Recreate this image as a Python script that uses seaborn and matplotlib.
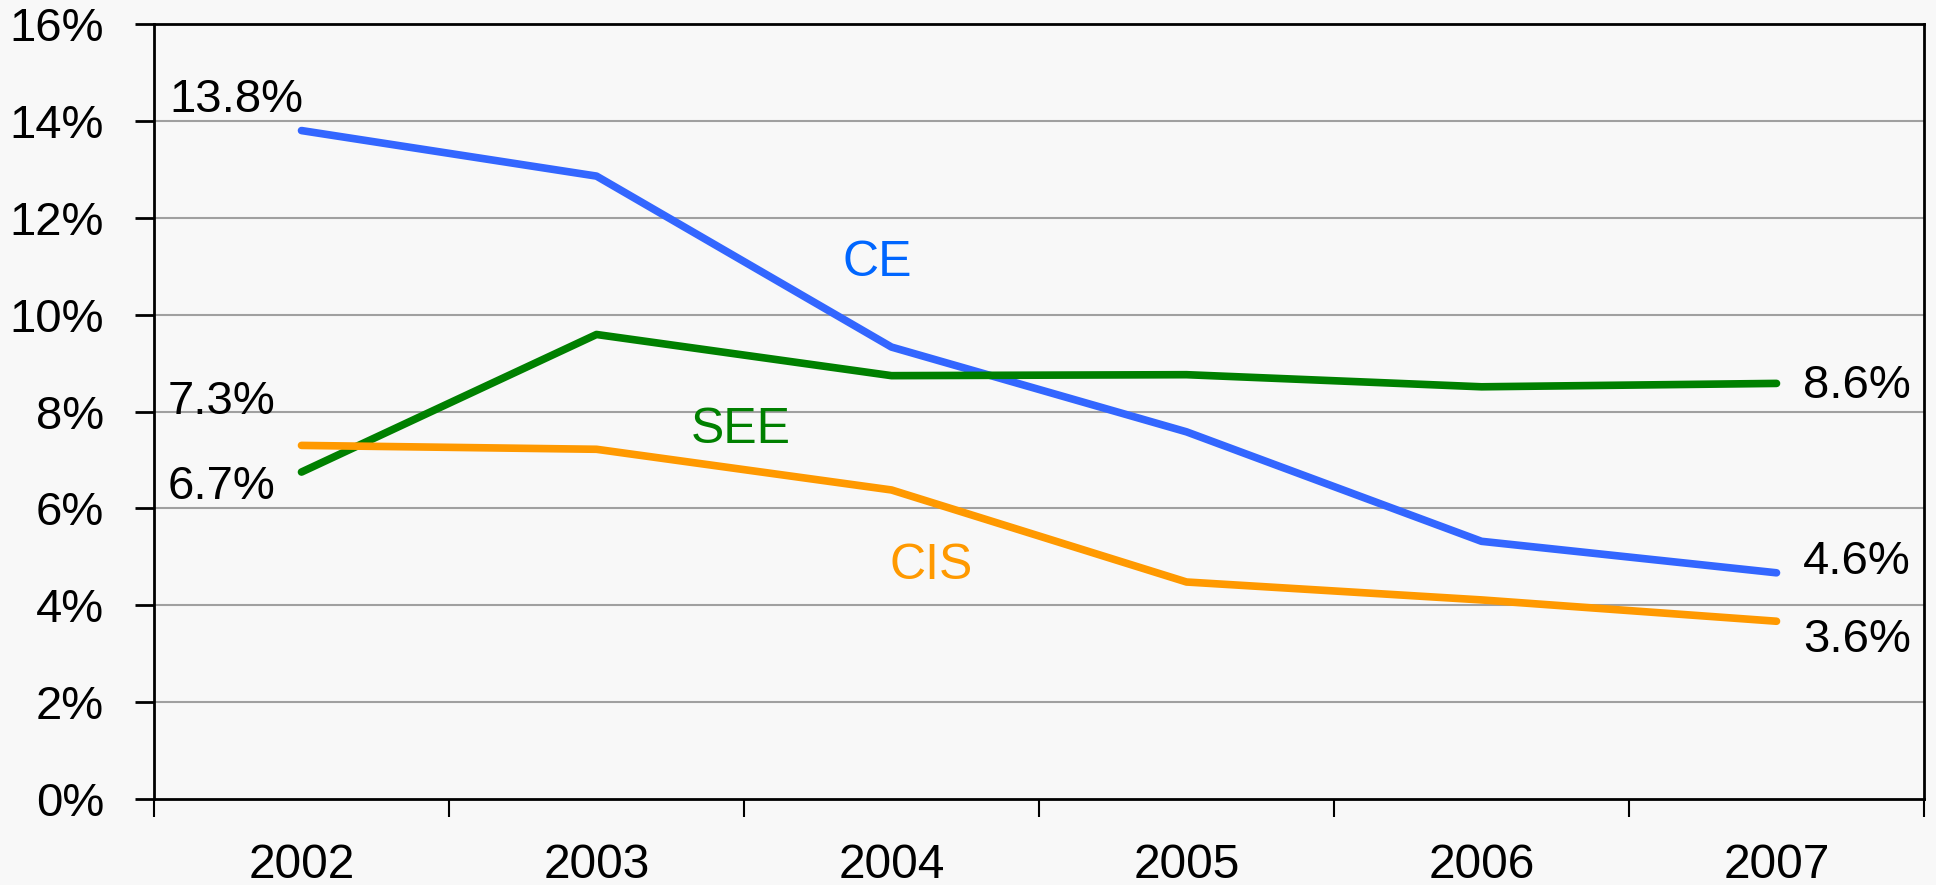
import matplotlib
matplotlib.use("Agg")
import matplotlib.pyplot as plt
import seaborn as sns
import pandas as pd
import numpy as np
from matplotlib.ticker import FixedLocator, NullFormatter, FixedFormatter

years = ["2002", "2003", "2004", "2005", "2006", "2007"]
ce = [13.8, 12.86, 9.33, 7.58, 5.32, 4.67]
see = [6.75, 9.59, 8.74, 8.76, 8.51, 8.58]
cis = [7.30, 7.22, 6.38, 4.48, 4.11, 3.67]
series_names = ["CE", "SEE", "CIS"]
start_labels = {"CE": "13.8%", "SEE": "6.7%", "CIS": "7.3%"}
end_labels = {"CE": "4.6%", "SEE": "8.6%", "CIS": "3.6%"}
yticks = [0, 2, 4, 6, 8, 10, 12, 14, 16]

colors = {"CE": "#3366FF", "SEE": "#008000", "CIS": "#FF9900"}
text_colors = {"CE": "#0066FF", "SEE": "#008000", "CIS": "#FF9900"}

sns.set_style("white")
plt.rcParams["font.family"] = ["Liberation Sans", "DejaVu Sans"]
plt.rcParams["text.color"] = "black"
plt.rcParams["xtick.color"] = "black"
plt.rcParams["ytick.color"] = "black"

rows = []
for name, vals in zip(series_names, [ce, see, cis]):
    for i, v in enumerate(vals):
        rows.append({"series": name, "x": i, "value": v})
df = pd.DataFrame(rows)

fig = plt.figure(figsize=(19.36, 8.85), dpi=100)
fig.patch.set_facecolor("#f8f8f8")
ax = fig.add_axes([154 / 1936, 1 - 799 / 885, (1924 - 154) / 1936, (799 - 24) / 885])
ax.set_facecolor("#f8f8f8")

sns.lineplot(data=df, x="x", y="value", hue="series", palette=colors,
             hue_order=series_names, linewidth=5.5, ax=ax, legend=False)

ax.set_xlim(-0.5, 5.5)
ax.set_ylim(0, 16)
ax.set_xlabel("")
ax.set_ylabel("")

# grid
for y in yticks[1:-1]:
    ax.axhline(y, color="#a0a0a0", lw=1.5, zorder=0)

# y axis
ax.set_yticks(yticks)
ax.set_yticklabels([f"{t}%" for t in yticks])
ax.tick_params(axis="y", direction="out", length=14, width=2, pad=22,
               labelsize=34, colors="black", left=True)

# x axis: ticks at boundaries, labels at centers
ax.xaxis.set_major_locator(FixedLocator(np.arange(-0.5, 6, 1.0)))
ax.xaxis.set_major_formatter(NullFormatter())
ax.xaxis.set_minor_locator(FixedLocator(np.arange(0, 6)))
ax.xaxis.set_minor_formatter(FixedFormatter(years))
ax.tick_params(axis="x", which="major", direction="out", length=13, width=1.5, bottom=True)
ax.tick_params(axis="x", which="minor", length=0, pad=32, labelsize=34.5, colors="black")

for s in ax.spines.values():
    s.set_color("black")
    s.set_linewidth(2)

# value labels
fs = 34
ax.text(-0.448, 14.18, start_labels["CE"], fontsize=fs, ha="left", va="baseline")
ax.text(-0.453, 7.95, start_labels["CIS"], fontsize=fs, ha="left", va="baseline")
ax.text(-0.453, 6.19, start_labels["SEE"], fontsize=fs, ha="left", va="baseline")
ax.text(5.09, 8.28, end_labels["SEE"], fontsize=fs, ha="left", va="baseline")
ax.text(5.09, 4.64, end_labels["CE"], fontsize=fs, ha="left", va="baseline")
ax.text(5.09, 3.03, end_labels["CIS"], fontsize=fs, ha="left", va="baseline")

# series labels
sfs = 36
ax.text(1.951, 10.79, "CE", fontsize=sfs, color=text_colors["CE"], ha="center", va="baseline")
ax.text(1.49, 7.35, "SEE", fontsize=sfs, color=text_colors["SEE"], ha="center", va="baseline")
ax.text(2.134, 4.54, "CIS", fontsize=sfs, color=text_colors["CIS"], ha="center", va="baseline")

fig.savefig("out.png", dpi=100, facecolor=fig.get_facecolor())
